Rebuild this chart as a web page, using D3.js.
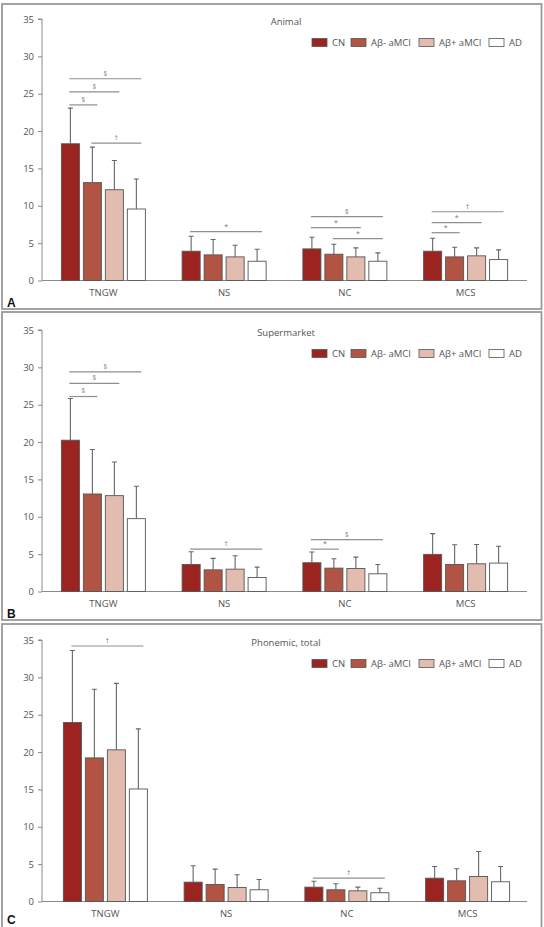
<!DOCTYPE html>
<html><head><meta charset="utf-8">
<script src="https://cdn.jsdelivr.net/npm/d3@7"></script>
<style>body{margin:0;background:#fff}svg{display:block}</style>
</head><body>
<svg id="chart" width="544" height="927"></svg>
<script>
const categories = ["TNGW","NS","NC","MCS"];
const groups = ["CN","Aβ- aMCI","Aβ+ aMCI","AD"];
const panelTitles = ["Animal","Supermarket","Phonemic, total"];
const panelLetters = ["A","B","C"];
const yTicks = [0,5,10,15,20,25,30,35];
const groupColors = ["#9b2320","#b25444","#e2bcae","#ffffff"];

// means [category][group]
const animalMean = [[18.3,13.1,12.15,9.57],[3.92,3.43,3.16,2.58],[4.23,3.52,3.16,2.58],[3.92,3.16,3.3,2.8]];
const animalSD   = [[4.77,4.75,3.92,4.01],[2.0,2.05,1.56,1.6],[1.56,1.33,1.2,1.12],[1.73,1.29,1.06,1.3]];
const superMean  = [[20.25,13.05,12.83,9.75],[3.62,2.9,2.99,1.88],[3.85,3.13,3.08,2.37],[4.97,3.62,3.71,3.8]];
const superSD    = [[5.59,5.95,4.51,4.33],[1.7,1.53,1.79,1.38],[1.43,1.25,1.52,1.25],[2.77,2.64,2.59,2.26]];
const phonMean   = [[23.95,19.22,20.3,15.06],[2.59,2.28,1.88,1.57],[1.92,1.57,1.43,1.17],[3.12,2.77,3.35,2.64]];
const phonSD     = [[9.65,9.18,8.9,8.04],[2.19,2.05,1.7,1.38],[0.8,0.8,0.49,0.61],[1.57,1.61,3.35,2.05]];

// significance: [category, fromGroup, toGroup, level, symbol]
const animalSig = [["TNGW",0,3,27.0,"§"],["TNGW",0,2,25.25,"§"],["TNGW",0,1,23.5,"§"],["TNGW",1,3,18.4,"†"],
  ["NS",0,3,6.55,"*"],["NC",0,3,8.55,"§"],["NC",0,2,7.08,"*"],["NC",1,3,5.6,"*"],
  ["MCS",0,3,9.2,"†"],["MCS",0,2,7.75,"*"],["MCS",0,1,6.4,"*"]];
const superSig = [["TNGW",0,3,29.4,"§"],["TNGW",0,2,27.85,"§"],["TNGW",0,1,26.1,"§"],
  ["NS",0,3,5.67,"†"],["NC",0,3,6.93,"§"],["NC",0,1,5.67,"*"]];
const phonSig = [["TNGW",0,3,34.2,"†"],["NC",0,3,3.12,"†"]];

const panels = [
  {mean:animalMean, sd:animalSD, sig:animalSig, frame:[4,309], top:19, xShift:0},
  {mean:superMean, sd:superSD, sig:superSig, frame:[312,620], top:330, xShift:0},
  {mean:phonMean, sd:phonSD, sig:phonSig, frame:[624,930], top:640, xShift:2}
];

const svg = d3.select("#chart");
const font = "'Open Sans', 'Noto Sans', sans-serif";
const plotH = 261.5;

panels.forEach((p, pi) => {
  const g = svg.append("g");
  // frame
  g.append("rect").attr("x",2).attr("y",p.frame[0]).attr("width",539.5).attr("height",p.frame[1]-p.frame[0])
    .attr("fill","none").attr("stroke","#9a9a9a").attr("stroke-width",1.8);

  const y = d3.scaleLinear().domain([0,35]).range([p.top+plotH, p.top]);
  const x0 = d3.scaleBand().domain(categories).range([43+p.xShift, 526+p.xShift]);
  const x1 = d3.scaleBand().domain(d3.range(groups.length)).range([0,84]).paddingInner(0.18);
  const off = (x0.bandwidth()-84)/2;
  const cx = (c, gi) => x0(c) + off + x1(gi) + x1.bandwidth()/2;

  // y axis
  const yAxis = g.append("g").attr("transform",`translate(42,0)`)
    .call(d3.axisLeft(y).tickValues(yTicks).tickSize(4).tickPadding(4));
  yAxis.select(".domain").attr("stroke","#8a8a8a").attr("d",`M-4,${y(35)}H0V${y(0)}`);
  yAxis.selectAll(".tick line").attr("stroke","#8a8a8a");
  yAxis.selectAll(".tick text").attr("fill","#555").style("font-family",font).style("font-size","9.5px");

  // x axis
  const xAxis = g.append("g").attr("transform",`translate(0,${y(0)})`)
    .call(d3.axisBottom(x0).tickSize(0).tickPadding(9));
  xAxis.select(".domain").attr("stroke","#8a8a8a").attr("d",`M42,0H527`);
  xAxis.selectAll(".tick text").attr("fill","#555").style("font-family",font).style("font-size","9.5px");

  // bars
  const rows = [];
  categories.forEach((c, ci) => groups.forEach((gr, gi) => rows.push({c, gi, m:p.mean[ci][gi], s:p.sd[ci][gi]})));
  g.selectAll("rect.bar").data(rows).join("rect").attr("class","bar")
    .attr("x", d => cx(d.c,d.gi) - x1.bandwidth()/2)
    .attr("width", x1.bandwidth())
    .attr("y", d => y(d.m))
    .attr("height", d => y(0) - y(d.m))
    .attr("fill", d => groupColors[d.gi])
    .attr("stroke", "#555").attr("stroke-width", 0.9);
  // error bars
  g.selectAll("path.err").data(rows).join("path").attr("class","err")
    .attr("d", d => {
      const xc = cx(d.c,d.gi), yt = y(d.m + d.s);
      return `M${xc},${y(d.m)}V${yt}M${xc-2.5},${yt}H${xc+2.5}`;
    })
    .attr("fill","none").attr("stroke","#666").attr("stroke-width",1.1);

  // significance
  const sg = g.selectAll("g.sig").data(p.sig).join("g").attr("class","sig");
  sg.append("line")
    .attr("x1", d => cx(d[0], d[1]) - 1)
    .attr("x2", d => cx(d[0], d[2]) + 5)
    .attr("y1", d => y(d[3])).attr("y2", d => y(d[3]))
    .attr("stroke","#8f8f8f").attr("stroke-width",1.2);
  sg.append("text")
    .attr("x", d => (cx(d[0], d[1]) - 1 + cx(d[0], d[2]) + 5)/2)
    .attr("y", d => y(d[3]) - 3)
    .attr("text-anchor","middle")
    .attr("fill","#777")
    .style("font-family",font).style("font-size","7px")
    .text(d => d[4]);

  // title
  g.append("text").attr("x",286).attr("y",p.top+5.5).attr("text-anchor","middle")
    .attr("fill","#555").style("font-family",font).style("font-size","9.5px").text(panelTitles[pi]);

  // legend
  const legX = [312, 351, 419, 489];
  const ly = p.top + 23.5;
  const lg = g.selectAll("g.leg").data(groups).join("g").attr("class","leg")
    .attr("transform", (d,i) => `translate(${legX[i]},${ly})`);
  lg.append("rect").attr("x",0).attr("y",-4).attr("width",15).attr("height",8)
    .attr("fill", (d,i) => groupColors[i]).attr("stroke","#555").attr("stroke-width",0.8);
  lg.append("text").attr("x",20).attr("y",3.5).attr("fill","#555")
    .style("font-family",font).style("font-size","9.5px").text(d => d);

  // panel letter
  g.append("text").attr("x",7).attr("y",[307,618,924][pi]).attr("fill","#111")
    .style("font-family","'Liberation Sans', Arial, sans-serif").style("font-weight","bold").style("font-size","12px")
    .text(panelLetters[pi]);
});
</script>
</body></html>
